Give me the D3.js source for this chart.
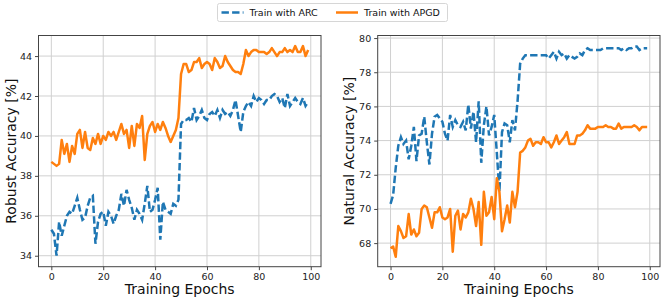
<!DOCTYPE html>
<html>
<head>
<meta charset="utf-8">
<script src="https://cdn.jsdelivr.net/npm/d3@7"></script>
<style>
  body { margin: 0; background: #fff; }
  svg { font-family: "DejaVu Sans", sans-serif; }
</style>
</head>
<body>
<svg id="chart" width="665" height="303"></svg>
<script>
// robust accuracy
var robustARC = [35.3, 35.1, 34.0, 35.7, 35.0, 35.5, 36.0, 36.2, 36.1, 36.5,
  36.9, 36.3, 35.8, 35.9, 36.5, 36.9, 37.0, 34.6, 35.7, 36.1,
  36.2, 35.5, 36.2, 36.0, 35.6, 36.0, 36.3, 37.1, 36.5, 37.3,
  36.8, 36.4, 35.8, 36.3, 36.1, 35.8, 36.6, 37.5, 36.2, 36.3,
  36.8, 37.4, 34.8, 36.7, 36.3, 36.2, 36.1, 36.6, 36.5, 36.8,
  40.6, 40.8, 40.8, 40.9, 40.7, 41.4, 40.8, 41.0, 41.3, 40.9,
  40.8, 41.1, 41.2, 41.0, 41.3, 40.9, 41.3, 41.1, 41.2, 41.0,
  41.3, 41.8, 41.0, 40.2, 41.2, 41.5, 41.7, 41.5, 42.0, 41.7,
  41.9, 41.8, 41.6, 41.8, 41.8, 42.0, 42.1, 42.0, 41.7, 41.9,
  41.4, 42.1, 41.5, 41.7, 41.9, 41.7, 41.6, 41.9, 41.5, 41.7];
var robustAPGD = [38.7, 38.6, 38.5, 38.6, 39.8, 39.1, 39.6, 38.7, 39.5, 39.1,
  40.1, 40.3, 39.4, 40.2, 39.4, 39.3, 39.9, 39.6, 40.1, 39.6,
  40.0, 39.8, 40.2, 40.0, 40.2, 39.8, 40.2, 40.6, 40.1, 40.3,
  39.4, 40.5, 39.5, 40.6, 40.4, 41.0, 38.8, 40.1, 40.5, 40.7,
  40.2, 40.6, 40.3, 40.7, 40.4, 40.0, 39.7, 40.0, 40.3, 40.9,
  43.1, 43.6, 43.6, 43.2, 43.3, 43.7, 43.7, 43.9, 43.4, 43.6,
  43.7, 43.6, 43.3, 43.9, 43.7, 43.4, 43.5, 44.0, 43.7, 43.5,
  43.3, 43.2, 43.2, 43.1, 43.6, 44.3, 44.0, 44.2, 44.3, 44.3,
  44.2, 44.2, 44.2, 44.1, 44.2, 44.4, 44.2, 44.0, 44.2, 44.2,
  44.4, 44.2, 44.3, 44.2, 44.5, 44.2, 44.2, 44.5, 44.0, 44.3];

// natural accuracy, right panel
var naturalARC = [70.3, 70.8, 72.4, 73.7, 74.2, 73.8, 74.0, 72.9, 73.7, 74.8,
  72.8, 74.3, 74.4, 75.4, 73.9, 72.6, 74.4, 75.4, 75.5, 75.3,
  75.1, 74.4, 74.0, 75.5, 74.8, 75.2, 74.9, 74.8, 75.1, 74.6,
  76.1, 74.7, 75.7, 73.9, 76.3, 72.7, 74.9, 76.0, 74.3, 74.8,
  75.5, 73.3, 71.0, 74.5, 75.0, 74.9, 73.9, 75.2, 74.6, 76.3,
  78.5, 78.8, 79.0, 79.0, 79.0, 79.0, 79.0, 79.0, 79.0, 79.0,
  79.0, 78.8, 79.0, 79.2, 78.8, 79.2, 79.0, 79.1, 78.8, 79.0,
  78.9, 78.8, 78.9, 79.1, 79.0, 79.3, 79.4, 79.3, 79.3, 79.3,
  79.3, 79.3, 79.4, 79.4, 79.4, 79.4, 79.4, 79.4, 79.4, 79.3,
  79.4, 79.3, 79.4, 79.4, 79.5, 79.5, 79.3, 79.4, 79.4, 79.4];
var naturalAPGD = [67.7, 67.8, 67.2, 69.0, 68.7, 68.3, 68.4, 69.7, 68.5, 68.8,
  68.4, 68.6, 70.0, 70.2, 70.1, 69.5, 68.9, 69.8, 69.8, 70.1,
  69.5, 69.4, 69.5, 70.0, 67.5, 69.6, 69.9, 68.8, 69.7, 69.5,
  69.8, 70.6, 70.0, 69.0, 70.4, 67.9, 71.0, 69.6, 69.8, 70.7,
  69.4, 71.8, 71.0, 68.7, 69.4, 70.2, 69.2, 71.0, 70.1, 71.0,
  73.3, 73.4, 73.6, 74.0, 74.1, 73.7, 73.9, 73.9, 73.8, 74.2,
  73.9, 73.9, 73.6, 73.9, 74.3, 73.8, 74.0, 74.2, 74.5, 73.8,
  73.8, 73.8, 74.3, 74.3, 74.4, 74.6, 74.9, 74.7, 74.7, 74.7,
  74.8, 74.8, 74.8, 74.9, 74.8, 74.8, 74.7, 74.7, 75.0, 74.7,
  74.8, 74.8, 74.8, 74.8, 74.9, 74.8, 74.6, 74.8, 74.8, 74.8];

var epochs = d3.range(robustARC.length);
var xTicks = [0, 20, 40, 60, 80, 100];
var robustTicks = [34, 36, 38, 40, 42, 44];
var naturalTicks = [68, 70, 72, 74, 76, 78, 80];
var seriesNames = ["Train with ARC", "Train with APGD"];

var blue = "#1f77b4", orange = "#ff7f0e";
var lw = 2.5, dash = "7.4,3.2";
var svg = d3.select("#chart");

function panel(opts) {
  var x = d3.scaleLinear().domain([-4.95, 103.95]).range([opts.left, opts.right]);
  var y = d3.scaleLinear().domain(opts.yDomain).range([opts.bottom, opts.top]);
  var g = svg.append("g");

  // grid
  g.selectAll(".gx").data(xTicks).enter().append("line")
    .attr("x1", d => x(d)).attr("x2", d => x(d))
    .attr("y1", opts.top).attr("y2", opts.bottom)
    .attr("stroke", "#d0d0d0").attr("stroke-width", 1);
  g.selectAll(".gy").data(opts.yTicks).enter().append("line")
    .attr("x1", opts.left).attr("x2", opts.right)
    .attr("y1", d => y(d)).attr("y2", d => y(d))
    .attr("stroke", "#d0d0d0").attr("stroke-width", 1);

  var line = d3.line().x((d, i) => x(epochs[i])).y(d => y(d));

  g.append("path").datum(opts.arc)
    .attr("d", line).attr("fill", "none")
    .attr("stroke", blue).attr("stroke-width", lw)
    .attr("stroke-dasharray", dash);
  g.append("path").datum(opts.apgd)
    .attr("d", line).attr("fill", "none")
    .attr("stroke", orange).attr("stroke-width", lw)
    .attr("stroke-linejoin", "round");

  // axes
  var xa = g.append("g").attr("transform", "translate(0," + opts.bottom + ")")
    .call(d3.axisBottom(x).tickValues(xTicks).tickSize(3.5).tickPadding(3));
  var ya = g.append("g").attr("transform", "translate(" + opts.left + ",0)")
    .call(d3.axisLeft(y).tickValues(opts.yTicks).tickSize(3.5).tickPadding(3));
  [xa, ya].forEach(function(a) {
    a.select(".domain").remove();
    a.selectAll("text").attr("font-size", 9.5).attr("fill", "#222")
      .attr("font-family", "DejaVu Sans");
    a.selectAll("line").attr("stroke", "#444");
  });

  g.append("rect")
    .attr("x", opts.left).attr("y", opts.top)
    .attr("width", opts.right - opts.left).attr("height", opts.bottom - opts.top)
    .attr("fill", "none").attr("stroke", "#444").attr("stroke-width", 1);

  g.append("text")
    .attr("x", (opts.left + opts.right) / 2).attr("y", 294)
    .attr("text-anchor", "middle").attr("font-size", 14).attr("fill", "#111")
    .text("Training Epochs");
  g.append("text")
    .attr("transform", "translate(" + opts.labelX + "," + (opts.top + opts.bottom) / 2 + ") rotate(-90)")
    .attr("text-anchor", "middle").attr("font-size", 14).attr("fill", "#111")
    .text(opts.yLabel);
}

panel({
  left: 38.5, right: 321, top: 35.5, bottom: 266.7,
  yDomain: [33.45, 45.03], yTicks: robustTicks,
  arc: robustARC, apgd: robustAPGD,
  yLabel: "Robust Accuracy [%]", labelX: 16
});
panel({
  left: 377.7, right: 660, top: 35.5, bottom: 266.7,
  yDomain: [66.62, 80.15], yTicks: naturalTicks,
  arc: naturalARC, apgd: naturalAPGD,
  yLabel: "Natural Accuracy [%]", labelX: 354
});

// legend
var lg = svg.append("g");
lg.append("rect").attr("x", 217.5).attr("y", 3.5).attr("width", 230).attr("height", 18)
  .attr("rx", 2).attr("fill", "#fff").attr("stroke", "#d6d6d6").attr("stroke-width", 1);
var legendItems = [
  { name: seriesNames[0], color: blue, dash: dash, x: 221.5 },
  { name: seriesNames[1], color: orange, dash: null, x: 336 }
];
legendItems.forEach(function(d) {
  lg.append("line").attr("x1", d.x).attr("x2", d.x + 22)
    .attr("y1", 12.5).attr("y2", 12.5)
    .attr("stroke", d.color).attr("stroke-width", lw)
    .attr("stroke-dasharray", d.dash);
  lg.append("text").attr("x", d.x + 28).attr("y", 16)
    .attr("font-size", 9.5).attr("fill", "#111").text(d.name);
});
</script>
</body>
</html>
